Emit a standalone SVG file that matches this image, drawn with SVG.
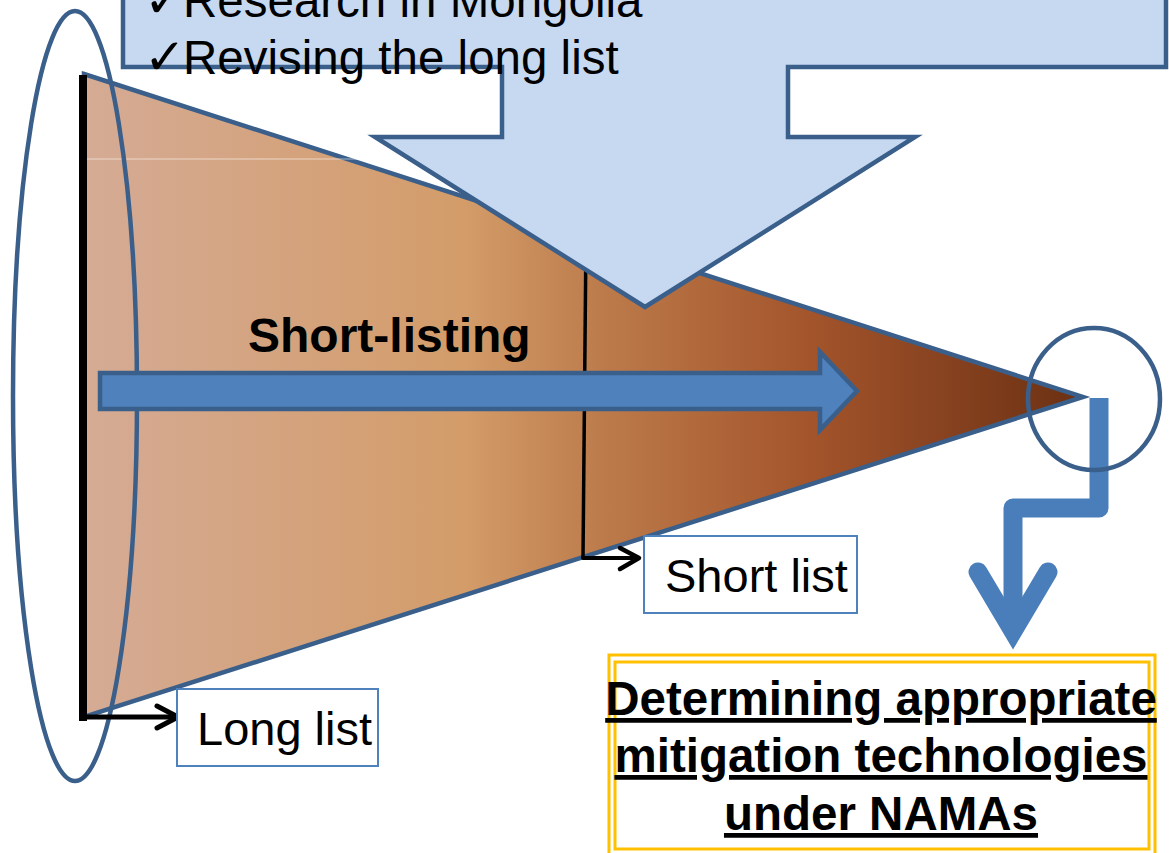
<svg xmlns="http://www.w3.org/2000/svg" width="1169" height="853" viewBox="0 0 1169 853">
  <defs>
    <linearGradient id="funnelGrad" gradientUnits="userSpaceOnUse" x1="84" y1="0" x2="1087" y2="0">
      <stop offset="0" stop-color="#D5AB95"/>
      <stop offset="0.38" stop-color="#D39C69"/>
      <stop offset="0.52" stop-color="#BC7A4A"/>
      <stop offset="0.72" stop-color="#A4552B"/>
      <stop offset="0.86" stop-color="#874220"/>
      <stop offset="1" stop-color="#6A3012"/>
    </linearGradient>
    <style>
      .txt { font-family: "Liberation Sans", Arial, sans-serif; fill: #000; }
      .chk { font-family: "DejaVu Sans", sans-serif; font-size: 50px; }
      .blueStroke { stroke: #3A5F8B; stroke-width: 4.5; }
      .lbox { fill: #FFFFFF; stroke: #4F81BD; stroke-width: 2; }
      .blk { stroke: #000; fill: none; stroke-linecap: round; stroke-linejoin: round; }
      .ybox { fill: none; stroke: #FFC000; stroke-width: 3; }
    </style>
  </defs>
  <rect x="0" y="0" width="1169" height="853" fill="#FFFFFF"/>

  <g id="funnel">
    <path d="M84,74 L1083,397 L84,717 Z" fill="url(#funnelGrad)" class="blueStroke" stroke-linejoin="miter"/>
    <line x1="87" y1="159" x2="470" y2="159" stroke="#FFFFFF" stroke-opacity="0.55" stroke-width="1"/>
  </g>

  <g id="short-list-marker">
    <line x1="586" y1="236" x2="583" y2="558" stroke="#000" stroke-width="3.5"/>
  </g>

  <g id="long-list-marker">
    <line x1="83" y1="75" x2="83" y2="721" stroke="#000" stroke-width="8"/>
  </g>

  <g id="left-ellipse">
    <ellipse cx="75" cy="396" rx="62" ry="385" fill="none" class="blueStroke"/>
  </g>

  <g id="short-listing-label">
    <text class="txt" x="248" y="352" font-size="48" font-weight="bold">Short-listing</text>
  </g>

  <g id="short-listing-arrow">
    <path d="M100,373 L820,373 L820,352 L857,391 L820,430 L820,409 L100,409 Z" fill="#4F81BD" class="blueStroke" stroke-linejoin="miter"/>
  </g>

  <g id="callout">
    <path d="M123,-20 L1166,-20 L1166,67 L788,67 L788,137 L915,137 L645,307 L375,137 L502,137 L502,67 L123,67 Z" fill="#C6D9F1" class="blueStroke" stroke-linejoin="miter"/>
    <text class="txt" x="144" y="17" font-size="47.5"><tspan class="chk">✓</tspan><tspan x="183">Research in Mongolia</tspan></text>
    <text class="txt" x="144" y="74" font-size="47.5"><tspan class="chk">✓</tspan><tspan x="183">Revising the long list</tspan></text>
  </g>

  <g id="connectors">
    <line class="blk" x1="83" y1="717" x2="177" y2="717" stroke-width="5"/>
    <path class="blk" d="M157,706 L178,717 L157,728" stroke-width="5"/>
    <line class="blk" x1="583" y1="558" x2="637" y2="558" stroke-width="4"/>
    <path class="blk" d="M620,548 L639,558 L620,569" stroke-width="4.5"/>
    <path d="M1099,398 L1099,508 L1013,508 L1013,628" fill="none" stroke="#4A7EBB" stroke-width="19" stroke-linejoin="round" stroke-linecap="butt"/>
    <path d="M978,572 L1013,631 L1048,572" fill="none" stroke="#4A7EBB" stroke-width="19" stroke-linejoin="miter" stroke-miterlimit="10" stroke-linecap="round"/>
  </g>

  <g id="tip-circle">
    <ellipse cx="1094" cy="399" rx="66" ry="71" fill="none" class="blueStroke"/>
  </g>

  <g id="long-list">
    <rect class="lbox" x="177" y="689" width="201" height="77"/>
    <text class="txt" x="197" y="745" font-size="47">Long list</text>
  </g>

  <g id="short-list">
    <rect class="lbox" x="644" y="536" width="213" height="77"/>
    <text class="txt" x="665" y="592" font-size="47">Short list</text>
  </g>

  <g id="result">
    <rect class="ybox" x="609" y="655" width="546" height="210"/>
    <rect class="ybox" x="615" y="662" width="534" height="187"/>
    <text class="txt" x="881" y="715" font-size="47.5" font-weight="bold" text-anchor="middle" text-decoration="underline">Determining appropriate</text>
    <text class="txt" x="881" y="772" font-size="47.5" font-weight="bold" text-anchor="middle" text-decoration="underline">mitigation technologies</text>
    <text class="txt" x="881" y="830" font-size="47.5" font-weight="bold" text-anchor="middle" text-decoration="underline">under NAMAs</text>
  </g>
</svg>
